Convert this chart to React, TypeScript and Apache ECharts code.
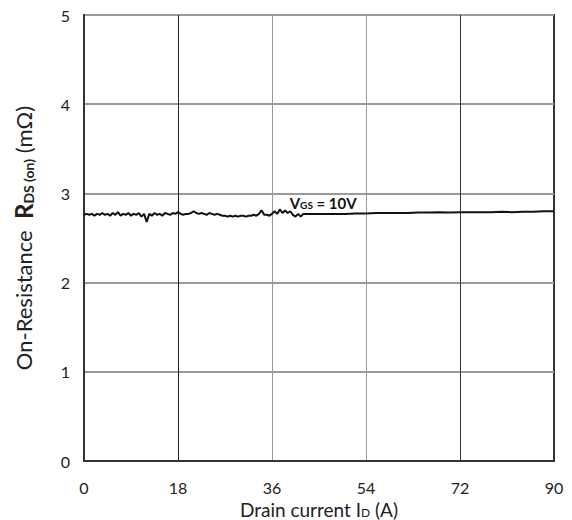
import React, { useEffect, useRef } from "react";
import * as echarts from "echarts";

const xTicks = [0, 18, 36, 54, 72, 90];
const yTicks = [0, 1, 2, 3, 4, 5];

const currentA = [
  0, 0.5, 1, 1.5, 2, 2.5, 3, 3.5, 4, 4.5, 5, 5.5, 6, 6.5, 7, 7.5, 8, 8.5, 9, 9.5,
  10, 10.5, 11, 11.5, 12, 12.5, 13, 13.5, 14, 14.5, 15, 15.5, 16, 16.5, 17, 17.5,
  18, 18.5, 19, 19.5, 20, 20.5, 21, 21.5, 22, 22.5, 23, 23.5, 24, 24.5, 25, 25.5,
  26, 26.5, 27, 27.5, 28, 28.5, 29, 29.5, 30, 30.5, 31, 31.5, 32, 32.5, 33, 33.5,
  34, 34.5, 35, 35.5, 36, 36.5, 37, 37.5, 38, 38.5, 39, 39.5, 40, 40.5, 41, 41.5,
  42, 44, 46, 48, 50, 52, 54, 56, 58, 60, 62, 64, 66, 68, 70, 72, 74, 76, 78, 80,
  82, 84, 86, 88, 90,
];

const rdsOn = [
  2.76, 2.77, 2.76, 2.77, 2.75, 2.77, 2.76, 2.78, 2.76, 2.77, 2.75, 2.78, 2.76, 2.79, 2.75, 2.77, 2.76, 2.78, 2.75, 2.77,
  2.76, 2.78, 2.74, 2.77, 2.68, 2.77, 2.75, 2.78, 2.76, 2.77, 2.75, 2.78, 2.77, 2.76, 2.78, 2.77,
  2.79, 2.77, 2.76, 2.77, 2.77, 2.78, 2.80, 2.78, 2.77, 2.78, 2.77, 2.76, 2.78, 2.77, 2.76, 2.77,
  2.76, 2.75, 2.75, 2.74, 2.75, 2.74, 2.75, 2.74, 2.75, 2.75, 2.74, 2.75, 2.75, 2.76, 2.75, 2.77,
  2.81, 2.76, 2.76, 2.75, 2.77, 2.80, 2.77, 2.82, 2.78, 2.81, 2.78, 2.80, 2.76, 2.74, 2.77, 2.74,
  2.77, 2.77, 2.77, 2.77, 2.77, 2.775, 2.775, 2.78, 2.78, 2.78, 2.78, 2.785, 2.785, 2.79, 2.785, 2.79, 2.79, 2.79, 2.79, 2.795,
  2.79, 2.795, 2.795, 2.8, 2.8,
];

const FONT = "Lato, 'Open Sans', sans-serif";

export default function App() {
  const ref = useRef<HTMLDivElement>(null);

  useEffect(() => {
    if (!ref.current) return;
    const chart = echarts.init(ref.current, undefined, { renderer: "svg" });
    const data = currentA.map((x, i) => [x, rdsOn[i]]);
    chart.setOption({
      animation: false,
      backgroundColor: "#fff",
      grid: {
        left: 84,
        right: 18,
        top: 15,
        bottom: 59,
        show: true,
        borderColor: "#333",
        borderWidth: 2,
        containLabel: false,
        outerBoundsMode: "none",
      },
      xAxis: {
        type: "value",
        min: xTicks[0],
        max: xTicks[xTicks.length - 1],
        interval: 18,
        name: "Drain current {n|I}{s|D}{n| (A)}",
        nameLocation: "middle",
        nameGap: 35,
        nameTextStyle: {
          color: "#222",
          fontFamily: FONT,
          fontSize: 19,
          rich: {
            n: { fontSize: 19, fontFamily: FONT, color: "#222" },
            s: { fontSize: 12, fontFamily: FONT, color: "#222", verticalAlign: "bottom", padding: [5, 0, 0, 0] },
          },
        },
        axisLine: { show: true, lineStyle: { color: "#333", width: 2 } },
        axisTick: { show: false },
        axisLabel: { color: "#222", fontFamily: FONT, fontSize: 16, margin: 18 },
        splitLine: {
          show: true,
          lineStyle: {
            color: ["#333", "#222", "#9a9a9a", "#9a9a9a", "#333", "#333"],
            width: [1],
          },
        },
      },
      yAxis: {
        type: "value",
        min: yTicks[0],
        max: yTicks[yTicks.length - 1],
        interval: 1,
        name: "On-Resistance  {b|R}{s|DS (on)}{n| (mΩ)}",
        nameLocation: "middle",
        nameRotate: 90,
        nameGap: 49,
        nameTextStyle: {
          color: "#222",
          fontFamily: FONT,
          fontSize: 22,
          rich: {
            n: { fontSize: 22, fontFamily: FONT, color: "#222" },
            b: { fontSize: 24, fontFamily: FONT, color: "#222", fontWeight: "bold" },
            s: { fontSize: 14, fontFamily: FONT, color: "#222", fontWeight: "bold", verticalAlign: "bottom", padding: [7, 0, 0, 0] },
          },
        },
        axisLine: { show: true, lineStyle: { color: "#333", width: 2 } },
        axisTick: { show: false },
        axisLabel: { color: "#222", fontFamily: FONT, fontSize: 16, margin: 14 },
        splitLine: { show: true, lineStyle: { color: "#9a9a9a", width: 2 } },
      },
      series: [
        {
          type: "line",
          data,
          symbol: "none",
          lineStyle: { color: "#111", width: 2 },
          markPoint: {
            symbol: "circle",
            symbolSize: 0,
            data: [
              {
                coord: [45.8, 2.895],
                label: {
                  show: true,
                  position: "inside",
                  formatter: "{b|V}{s|GS}{b| = 10V}",
                  rich: {
                    b: { fontSize: 15, fontWeight: "bold", fontFamily: FONT, color: "#111" },
                    s: { fontSize: 10, fontWeight: "bold", fontFamily: FONT, color: "#111", verticalAlign: "bottom", padding: [4, 0, 0, 0] },
                  },
                },
              },
            ],
          },
        },
      ],
    });
    return () => chart.dispose();
  }, []);

  return (
    <div
      ref={ref}
      style={{ position: "absolute", left: 0, top: 0, width: 572, height: 520 }}
    />
  );
}
